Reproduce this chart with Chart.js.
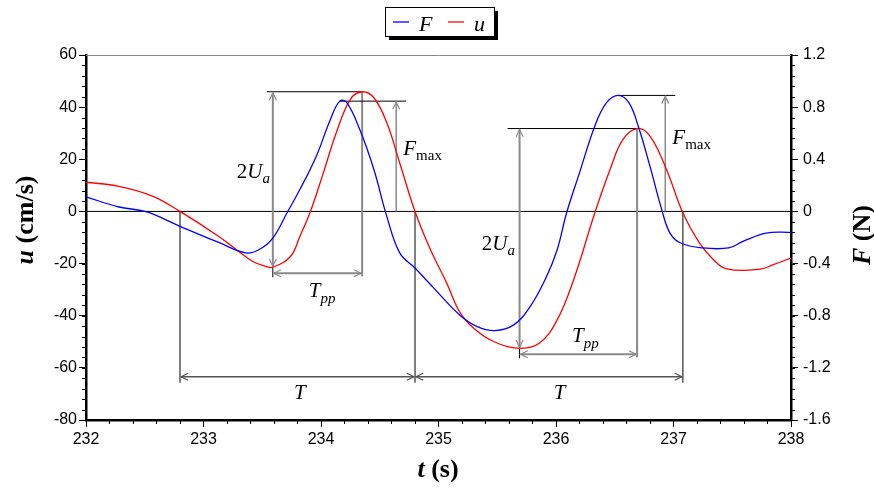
<!DOCTYPE html>
<html>
<head>
<meta charset="utf-8">
<script src="https://cdn.jsdelivr.net/npm/chart.js@4.4.0/dist/chart.umd.min.js"></script>
<style>
  html, body { margin: 0; padding: 0; background: #fff; }
  #chart { display: block; }
</style>
</head>
<body>
<canvas id="chart" width="874" height="489"></canvas>
<script>
// Red trace: velocity u (cm/s) against time t (s)
const uTime = [232.00, 232.28, 232.57, 232.80, 233.13, 233.28, 233.42, 233.53, 233.59, 233.74, 233.82, 233.91,
  234.02, 234.13, 234.25, 234.35, 234.45, 234.56, 234.67, 234.80, 234.93, 235.07, 235.18, 235.30, 235.47,
  235.69, 235.86, 236.01, 236.15, 236.33, 236.46, 236.57, 236.69, 236.80, 236.94, 237.08, 237.22, 237.34,
  237.45, 237.74, 237.85, 238.00];
const uValues = [11.2, 9.6, 5.8, 0.0, -9.6, -14.7, -19.2, -21.1, -21.4, -17.3, -9.6, 0.0,
  14.8, 30.2, 43.0, 45.9, 43.6, 34.0, 18.6, 0.0, -14.5, -27.5, -38.5, -44.8, -49.9,
  -52.5, -50.5, -41.6, -26.2, -0.6, 16.1, 27.6, 31.8, 28.9, 16.1, -0.6, -12.1, -18.5,
  -22.0, -22.1, -20.4, -17.9];

// Blue trace: force F (N) against time t (s)
const fTime = [232.00, 232.28, 232.51, 232.80, 233.13, 233.36, 233.47, 233.59, 233.71, 233.82, 233.96, 234.08,
  234.16, 234.22, 234.33, 234.45, 234.56, 234.67, 234.80, 234.96, 235.18, 235.33, 235.48, 235.64, 235.78,
  235.92, 236.01, 236.09, 236.20, 236.33, 236.43, 236.53, 236.62, 236.70, 236.80, 236.90, 236.97, 237.06,
  237.25, 237.47, 237.59, 237.79, 238.00];
const fValues = [0.112, 0.034, -0.002, -0.114, -0.238, -0.318, -0.294, -0.204, -0.012, 0.168, 0.424, 0.706,
  0.846, 0.834, 0.628, 0.322, -0.038, -0.318, -0.434, -0.588, -0.794, -0.884, -0.914, -0.870, -0.730,
  -0.498, -0.294, -0.012, 0.296, 0.654, 0.834, 0.890, 0.834, 0.654, 0.346, 0.014, -0.166, -0.242,
  -0.280, -0.280, -0.230, -0.166, -0.160];

// Tick labels
const timeTicks = [232, 233, 234, 235, 236, 237, 238];
const uTicks = [-80, -60, -40, -20, 0, 20, 40, 60];
const fTicks = [-1.6, -1.2, -0.8, -0.4, 0, 0.4, 0.8, 1.2];

// Zero up-crossings of u that bound the two wave periods T
const zeroCrossings = [232.80, 234.80, 237.08];
// Level (cm/s) of the T arrows and where the F_max arrows stand (s)
const periodArrowLevel = -63.4;
const fmaxArrowTime = [234.64, 236.93];

// Find peaks / troughs of each period from the data itself
function extremum(times, values, t0, t1, sign) {
  let best = null;
  for (let i = 0; i < times.length; i++) {
    if (times[i] < t0 || times[i] > t1) continue;
    if (best === null || sign * values[i] > sign * values[best]) best = i;
  }
  return { t: times[best], v: values[best] };
}

const cycles = [];
for (let i = 0; i < zeroCrossings.length - 1; i++) {
  const t0 = zeroCrossings[i], t1 = zeroCrossings[i + 1];
  cycles.push({
    uMax: extremum(uTime, uValues, t0, t1, 1),
    uMin: extremum(uTime, uValues, t0, t1, -1),
    fMax: extremum(fTime, fValues, t0, t1, 1),
    fmaxX: fmaxArrowTime[i]
  });
}

// Label anchors in data units (t, u)
const labels = [
  { kind: '2Ua', t: 233.566, u: 13.0, align: 'right' },
  { kind: '2Ua', t: 235.650, u: -14.7, align: 'right' },
  { kind: 'Fmax', t: 234.700, u: 21.8, align: 'left' },
  { kind: 'Fmax', t: 236.990, u: 25.7, align: 'left' },
  { kind: 'Tpp', t: 234.010, u: -32.7, align: 'center' },
  { kind: 'Tpp', t: 236.250, u: -50.0, align: 'center' },
  { kind: 'T', t: 233.820, u: -72.0, align: 'center' },
  { kind: 'T', t: 236.030, u: -72.0, align: 'center' }
];

const SERIF = '"Liberation Serif", "DejaVu Serif", serif';
const SANS = '"Liberation Sans", Arial, sans-serif';

// Text with pieces in different fonts (italic symbols, subscripts)
function richText(ctx, x, y, parts, align) {
  let w = 0;
  parts.forEach(p => { ctx.font = p.font; w += ctx.measureText(p.text).width; });
  let cx = align === 'right' ? x - w : align === 'center' ? x - w / 2 : x;
  ctx.textBaseline = 'alphabetic';
  ctx.textAlign = 'left';
  parts.forEach(p => {
    ctx.font = p.font;
    ctx.fillText(p.text, cx, y + (p.dy || 0));
    cx += ctx.measureText(p.text).width;
  });
}

function labelParts(kind) {
  const big = '21px ' + SERIF, bigI = 'italic 21px ' + SERIF;
  const sub = '15px ' + SERIF, subI = 'italic 15px ' + SERIF;
  if (kind === '2Ua') return [{ text: '2', font: big }, { text: 'U', font: bigI }, { text: 'a', font: subI, dy: 5 }];
  if (kind === 'Fmax') return [{ text: 'F', font: bigI }, { text: 'max', font: sub, dy: 5 }];
  if (kind === 'Tpp') return [{ text: 'T', font: bigI }, { text: 'pp', font: subI, dy: 6 }];
  return [{ text: 'T', font: bigI }];
}

// Open chevron arrow head with tip at (x, y) pointing along angle a
function arrowHead(ctx, x, y, a) {
  const L = 8, s = 0.45;
  ctx.beginPath();
  ctx.moveTo(x - L * Math.cos(a - s), y - L * Math.sin(a - s));
  ctx.lineTo(x, y);
  ctx.lineTo(x - L * Math.cos(a + s), y - L * Math.sin(a + s));
  ctx.stroke();
}

function line(ctx, x1, y1, x2, y2, color, width) {
  ctx.strokeStyle = color;
  ctx.lineWidth = width;
  ctx.beginPath();
  ctx.moveTo(x1, y1);
  ctx.lineTo(x2, y2);
  ctx.stroke();
}

function arrow(ctx, x1, y1, x2, y2, color, width, both) {
  line(ctx, x1, y1, x2, y2, color, width);
  ctx.lineWidth = 1.2;
  const a = Math.atan2(y2 - y1, x2 - x1);
  arrowHead(ctx, x2, y2, a);
  if (both) arrowHead(ctx, x1, y1, a + Math.PI);
}

const annotationPlugin = {
  id: 'annotations',
  beforeDatasetsDraw(chart) {
    const { ctx, chartArea: ca, scales } = chart;
    const x = scales.x, y = scales.y, y1 = scales.y1;
    const GRAY = '#8a8a8a', DARK = '#555';
    ctx.save();
    ctx.lineCap = 'butt';

    // top frame line and zero line
    line(ctx, ca.left, ca.top + 0.5, ca.right, ca.top + 0.5, '#888', 1);
    line(ctx, ca.left, y.getPixelForValue(0), ca.right, y.getPixelForValue(0), '#000', 1);

    // minor ticks
    for (let v = 232; v <= 238.001; v += 0.2) {
      const px = Math.round(x.getPixelForValue(v)) + 0.5;
      line(ctx, px, ca.bottom, px, ca.bottom + 4, '#000', 1);
    }
    for (let v = -80; v <= 60.001; v += 4) {
      const py = Math.round(y.getPixelForValue(v)) + 0.5;
      line(ctx, ca.left - 4, py, ca.left, py, '#000', 1);
    }
    for (let v = -1.6; v <= 1.2001; v += 0.08) {
      const py = Math.round(y1.getPixelForValue(v)) + 0.5;
      line(ctx, ca.right, py, ca.right + 4, py, '#000', 1);
    }

    const arrowY = y.getPixelForValue(periodArrowLevel);
    const y0 = y.getPixelForValue(0);

    // period boundaries and T arrows
    zeroCrossings.forEach(t => {
      const px = x.getPixelForValue(t);
      line(ctx, px, y0, px, arrowY + 6, '#000', 1);
    });
    for (let i = 0; i < zeroCrossings.length - 1; i++) {
      arrow(ctx, x.getPixelForValue(zeroCrossings[i]) + 1, arrowY, x.getPixelForValue(zeroCrossings[i + 1]) - 1, arrowY, DARK, 1.5, true);
    }

    cycles.forEach((c, i) => {
      const xMin = x.getPixelForValue(c.uMin.t), yMin = y.getPixelForValue(c.uMin.v);
      const xMax = x.getPixelForValue(c.uMax.t), yMax = y.getPixelForValue(c.uMax.v);
      // 2U_a: reference line at crest and double arrow trough-to-crest
      line(ctx, xMin - (i === 0 ? 6 : 12), yMax, xMax, yMax, '#000', 1);
      arrow(ctx, xMin, yMax + 1, xMin, yMin - 1, GRAY, 2, true);
      // T_pp: drop from crest and arrow trough-to-crest time
      const tppY = yMin + 6;
      line(ctx, xMax, yMax, xMax, tppY + 3, GRAY, 2);
      line(ctx, xMin, yMin, xMin, tppY + 4, '#000', 1);
      arrow(ctx, xMin + 1, tppY, xMax - 1, tppY, GRAY, 2, true);
      // F_max: reference line at force peak and arrow up from zero
      const xf = x.getPixelForValue(c.fMax.t), yf = y1.getPixelForValue(c.fMax.v);
      const xa = x.getPixelForValue(c.fmaxX);
      line(ctx, xf, yf, xa + 10, yf, '#000', 1);
      arrow(ctx, xa, y0, xa, yf + 1, GRAY, 1.5, false);
    });
    ctx.restore();
  },
  afterDraw(chart) {
    const { ctx, scales } = chart;
    const x = scales.x, y = scales.y;
    ctx.save();
    ctx.fillStyle = '#000';

    // annotation labels
    labels.forEach(l => {
      richText(ctx, x.getPixelForValue(l.t), y.getPixelForValue(l.u), labelParts(l.kind), l.align);
    });

    // axis titles
    const bold = 'bold 26px ' + SERIF, boldI = 'italic bold 26px ' + SERIF;
    ctx.save();
    ctx.translate(33, 220);
    ctx.rotate(-Math.PI / 2);
    richText(ctx, 0, 0, [{ text: 'u', font: boldI }, { text: ' (cm/s)', font: bold }], 'center');
    ctx.restore();
    ctx.save();
    ctx.translate(870, 235);
    ctx.rotate(-Math.PI / 2);
    richText(ctx, 0, 0, [{ text: 'F', font: boldI }, { text: ' (N)', font: bold }], 'center');
    ctx.restore();
    richText(ctx, 438, 477, [{ text: 't', font: boldI }, { text: ' (s)', font: bold }], 'center');

    // legend box with drop shadow
    const bx = 385, by = 7, bw = 109, bh = 29;
    ctx.fillStyle = '#000';
    ctx.fillRect(bx + 4, by + 4, bw, bh);
    ctx.fillStyle = '#fff';
    ctx.fillRect(bx, by, bw, bh);
    ctx.strokeStyle = '#000';
    ctx.lineWidth = 1;
    ctx.strokeRect(bx + 0.5, by + 0.5, bw, bh);
    let lx = bx + 8;
    chart.data.datasets.forEach(ds => {
      line(ctx, lx, by + 15, lx + 16, by + 15, ds.borderColor, 1.3);
      ctx.fillStyle = '#000';
      richText(ctx, lx + 26, by + 24, [{ text: ds.label, font: 'italic 22px ' + SERIF }], 'left');
      lx += 55;
    });
    ctx.restore();
  }
};

function points(times, values) {
  return times.map((t, i) => ({ x: t, y: values[i] }));
}

function fixTicks(list) {
  return scale => { scale.ticks = list.map(v => ({ value: v })); };
}

const tickFont = { family: SANS, size: 16 };
const axisGrid = { drawOnChartArea: false, drawTicks: true, tickLength: 7, color: '#000', lineWidth: 1 };
const axisBorder = { display: true, color: '#000', width: 2.5 };

const chart = new Chart(document.getElementById('chart'), {
  type: 'line',
  data: {
    datasets: [{
      label: 'F',
      data: points(fTime, fValues),
      borderColor: '#0000ff',
      borderWidth: 1.3,
      pointRadius: 0,
      tension: 0.4,
      yAxisID: 'y1'
    }, {
      label: 'u',
      data: points(uTime, uValues),
      borderColor: '#ff0000',
      borderWidth: 1.3,
      pointRadius: 0,
      tension: 0.4,
      yAxisID: 'y'
    }]
  },
  options: {
    responsive: false,
    animation: false,
    devicePixelRatio: 1,
    layout: { padding: { top: 55, left: 0, right: 0, bottom: 0 } },
    plugins: { legend: { display: false }, tooltip: { enabled: false } },
    scales: {
      x: {
        type: 'linear', min: 232, max: 238,
        afterBuildTicks: fixTicks(timeTicks),
        afterFit: s => { s.height = 69; },
        ticks: { font: tickFont, color: '#000', padding: 3, maxRotation: 0 },
        grid: axisGrid, border: axisBorder
      },
      y: {
        position: 'left', min: -80, max: 60,
        afterBuildTicks: fixTicks(uTicks),
        afterFit: s => { s.width = 86; },
        ticks: { font: tickFont, color: '#000', padding: 2 },
        grid: axisGrid, border: axisBorder
      },
      y1: {
        position: 'right', min: -1.6, max: 1.2,
        afterBuildTicks: fixTicks(fTicks),
        afterFit: s => { s.width = 83; },
        ticks: { font: tickFont, color: '#000', padding: 5, callback: v => String(parseFloat(v.toFixed(1))) },
        grid: axisGrid, border: axisBorder
      }
    }
  },
  plugins: [annotationPlugin]
});
</script>
</body>
</html>
